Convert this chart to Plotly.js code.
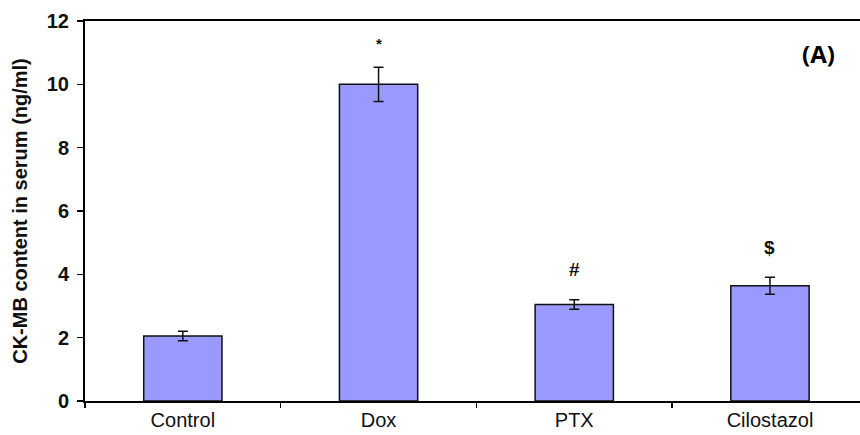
<!DOCTYPE html>
<html>
<head>
<meta charset="utf-8">
<script src="https://cdn.plot.ly/plotly-3.0.1.min.js"></script>
<style>html,body{margin:0;padding:0;background:#fff;}#chart{width:860px;height:435px;}</style>
</head>
<body>
<div id="chart"></div>
<script>
const categories = ["Control", "Dox", "PTX", "Cilostazol"];
const values = [2.05, 10.0, 3.05, 3.64];
const errors = [0.15, 0.54, 0.15, 0.27];
const markers = ["", "*", "#", "$"];
const yTicks = [0, 2, 4, 6, 8, 10, 12];

const trace = {
  type: "bar",
  x: categories,
  y: values,
  width: 0.4,
  marker: {color: "#9999FF", line: {color: "#111111", width: 1.5}},
  error_y: {type: "data", array: errors, visible: true, color: "#111111", thickness: 1.5, width: 5},
  hoverinfo: "none"
};

const annotations = [];
categories.forEach((c, i) => {
  if (markers[i]) {
    annotations.push({
      x: c, y: values[i] + errors[i], xref: "x", yref: "y",
      text: "<b>" + markers[i] + "</b>", showarrow: false, yanchor: "middle",
      yshift: markers[i] === "*" ? 24 : 30,
      font: {family: "Liberation Sans, Arial", size: markers[i] === "*" ? 15 : 19, color: "#111"}
    });
  }
});
annotations.push({
  xref: "paper", yref: "paper", x: 0.947, y: 0.915, text: "<b>(A)</b>", showarrow: false,
  xanchor: "center", yanchor: "middle",
  font: {family: "Open Sans, Liberation Sans", size: 24, color: "#000"}
});

const layout = {
  width: 860, height: 435,
  margin: {l: 85, r: 0, t: 21, b: 34},
  paper_bgcolor: "#fff", plot_bgcolor: "#fff",
  showlegend: false,
  xaxis: {
    type: "category", range: [-0.5, 3.46],
    showline: true, linecolor: "#000", linewidth: 2, mirror: true,
    ticks: "outside", tickson: "boundaries", ticklen: 5, tickcolor: "#000", tickwidth: 1.5,
    showgrid: false, zeroline: false,
    tickfont: {family: "Liberation Sans, Arial", size: 20, color: "#111"}
  },
  yaxis: {
    range: [0, 12], tickvals: yTicks, ticktext: yTicks.map(v => "<b>" + v + "</b>"),
    showline: true, linecolor: "#000", linewidth: 2,
    ticks: "outside", ticklen: 6, tickcolor: "#000", tickwidth: 1.5,
    ticklabelstandoff: 4,
    showgrid: false, zeroline: false,
    tickfont: {family: "Liberation Sans, Arial", size: 20, color: "#111"},
    title: {text: "<b>CK-MB content in serum (ng/ml)</b>", standoff: 14,
      font: {family: "Liberation Sans, Arial", size: 20, color: "#111"}}
  },
  annotations: annotations
};

Plotly.newPlot("chart", [trace], layout, {displayModeBar: false, staticPlot: true});
</script>
</body>
</html>
